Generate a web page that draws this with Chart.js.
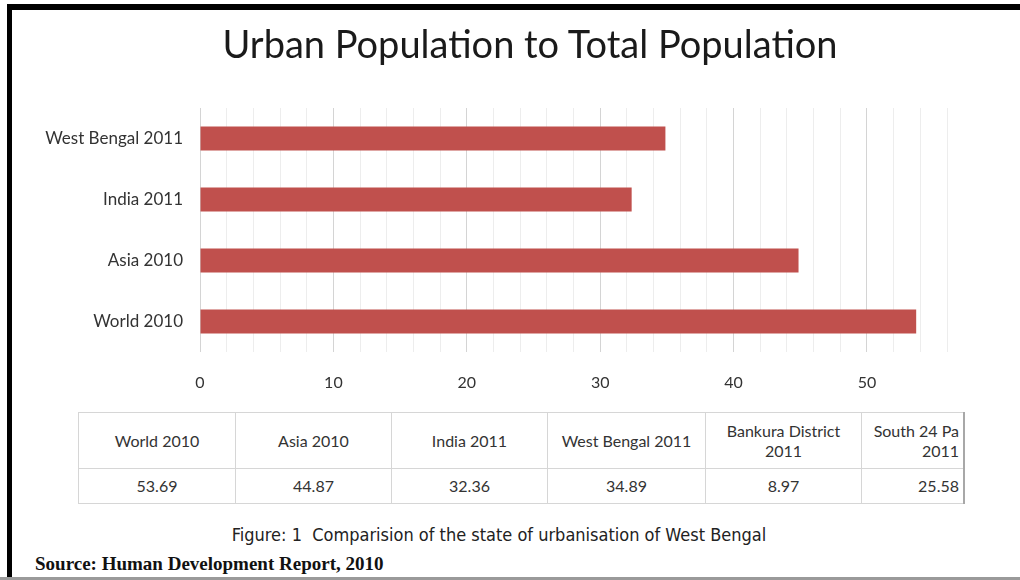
<!DOCTYPE html>
<html>
<head>
<meta charset="utf-8">
<script src="https://cdn.jsdelivr.net/npm/chart.js@4.4.1/dist/chart.umd.min.js"></script>
<style>
    html, body { margin: 0; padding: 0; background: #fff; }
    #page { position: relative; width: 1020px; height: 580px; overflow: hidden; background: #fff; }
    #frameTop { position: absolute; left: 7px; top: 4px; width: 1013px; height: 6px; background: #000; }
    #frameLeft { position: absolute; left: 7px; top: 4px; width: 5px; height: 576px; background: #000; }
    #frameBottom { position: absolute; left: 0; top: 577px; width: 1020px; height: 3px; background: #9a9a9a; }
    #title { position: absolute; top: 20px; left: 530px; transform: translateX(-50%); white-space: nowrap;
        font-family: Lato, sans-serif; font-size: 38px; color: #1a1a1a; }
    #chartBox { position: absolute; left: 0; top: 0; width: 1020px; height: 400px; }
    #dataTable { position: absolute; left: 78px; top: 412px; border-collapse: collapse; table-layout: fixed;
        font-family: Lato, sans-serif; font-size: 16px; color: #333; }
    #dataTable td { border: 1px solid #d6d6d6; text-align: center; padding: 0 4px; overflow: hidden; white-space: nowrap; line-height: 20px; }
    #dataTable tr.head td { height: 55px; white-space: normal; }
    #dataTable tr.vals td { height: 34px; }
    #dataTable td.last { text-align: right; border-right: 2px solid #a8a8a8; }
    #caption { position: absolute; top: 524px; left: 499px; transform: translateX(-50%); white-space: nowrap;
        font-family: "Liberation Sans Narrow", "DejaVu Sans Condensed", sans-serif; font-size: 18px; color: #222; }
    #source { position: absolute; top: 553px; left: 35px; white-space: nowrap;
        font-family: "Liberation Serif", serif; font-weight: bold; font-size: 19px; color: #111; }
</style>
</head>
<body>
<div id="page">
    <div id="chartBox"><canvas id="urban" width="1020" height="400"></canvas></div>
    <div id="title">Urban Population to Total Population</div>
    <table id="dataTable"></table>
    <div id="caption">Figure: 1&nbsp; Comparision of the state of urbanisation of West Bengal</div>
    <div id="source">Source: Human Development Report, 2010</div>
    <div id="frameTop"></div>
    <div id="frameLeft"></div>
    <div id="frameBottom"></div>
</div>
<script>
// table columns (same order as the data table under the chart)
const regions = ['World 2010', 'Asia 2010', 'India 2011', 'West Bengal 2011', 'Bankura District 2011', 'South 24 Pa 2011'];
const urbanShare = [53.69, 44.87, 32.36, 34.89, 8.97, 25.58];
// only the first four go into the bar chart
const chartCount = 4;
const colWidths = [157, 156, 156, 158, 156, 102];

const barLabels = regions.slice(0, chartCount);
const barValues = urbanShare.slice(0, chartCount);

// build data table
let table = document.getElementById('dataTable');
let headRow = document.createElement('tr');
headRow.className = 'head';
let valRow = document.createElement('tr');
valRow.className = 'vals';
regions.forEach(function (name, i) {
    let th = document.createElement('td');
    let td = document.createElement('td');
    th.style.width = (colWidths[i] - 9) + 'px';
    if (name.indexOf('Bankura') === 0) {
        th.innerHTML = 'Bankura District<br>2011';
    } else if (name.indexOf('South 24') === 0) {
        th.innerHTML = 'South 24 Pa<br>2011';
    } else {
        th.textContent = name;
    }
    td.textContent = urbanShare[i].toFixed(2);
    if (i === regions.length - 1) {
        th.className = 'last';
        td.className = 'last';
    }
    headRow.appendChild(th);
    valRow.appendChild(td);
});
table.appendChild(headRow);
table.appendChild(valRow);

const labelFont = { family: 'Lato, sans-serif', size: 17 };

const config = {
    type: 'bar',
    data: {
        labels: barLabels,
        datasets: [{
            label: 'Urban Population to Total Population',
            data: barValues,
            backgroundColor: '#c0504d',
            borderWidth: 0,
            categoryPercentage: 1.0,
            barPercentage: 0.39
        }]
    },
    options: {
        responsive: false,
        animation: false,
        indexAxis: 'y',
        layout: { padding: { left: 10, right: 73, top: 108, bottom: 0 } },
        plugins: {
            legend: { display: false },
            title: { display: false },
            tooltip: { enabled: false }
        },
        scales: {
            x: {
                min: 0,
                max: 56,
                ticks: {
                    stepSize: 2,
                    color: '#333',
                    font: { family: 'Lato, sans-serif', size: 16 },
                    padding: 21,
                    maxRotation: 0,
                    autoSkip: false,
                    callback: function (v) { return v % 10 === 0 ? v : ''; }
                },
                grid: {
                    drawTicks: false,
                    color: function (ctx) {
                        return ctx.tick && ctx.tick.value % 10 === 0 ? '#d4d4d4' : '#ededed';
                    }
                },
                border: { display: false },
                afterFit: function (scale) { scale.height = 48; }
            },
            y: {
                reverse: true,
                ticks: { color: '#333', font: labelFont, padding: 17 },
                grid: { display: false, drawTicks: false },
                border: { display: false },
                afterFit: function (scale) { scale.width = 190; }
            }
        }
    }
};

const urbanChart = new Chart(document.getElementById('urban'), config);
</script>
</body>
</html>
